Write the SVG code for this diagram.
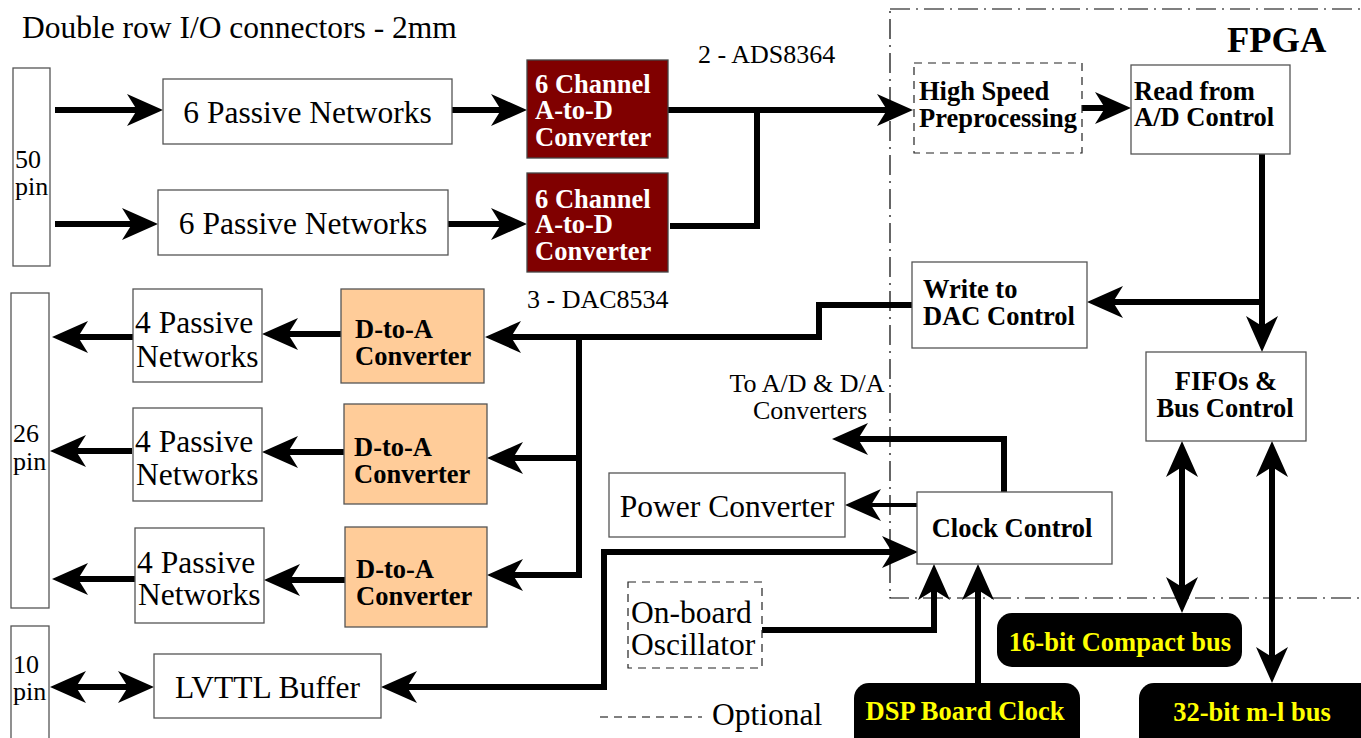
<svg xmlns="http://www.w3.org/2000/svg" width="1361" height="738" viewBox="0 0 1361 738">
<style>
text{font-family:"Liberation Serif","Times New Roman",serif;fill:#000}
.r{font-size:31.5px}
.s{font-size:26px}
.b{font-size:26.5px;font-weight:bold}
.w{fill:#fff}
.y{fill:#ffff00}
.box{fill:#fff;stroke:#555;stroke-width:1.3}
.adc{fill:#800000;stroke:#444;stroke-width:1.3}
.dac{fill:#ffcc99;stroke:#555;stroke-width:1.3}
.dash{fill:#fff;stroke:#222;stroke-width:1.2;stroke-dasharray:8,6}
.bus{fill:#000}
.c{fill:none;stroke:#000;stroke-width:6}
.ct{fill:none;stroke:#000;stroke-width:4}
.a{marker-end:url(#ah)}
.aa{marker-end:url(#ah);marker-start:url(#ah)}
</style>
<defs>
<marker id="ah" markerUnits="userSpaceOnUse" viewBox="0 0 36 32" markerWidth="36" markerHeight="32" refX="10" refY="16" orient="auto-start-reverse">
<path d="M0,0 L36,16 L0,32 L10,16 Z" fill="#000"/>
</marker>
</defs>

<g id="fpga">
<rect x="890" y="9" width="480" height="589" fill="none" stroke="#000" stroke-width="1.2" stroke-dasharray="20,6,2,6"/>
<text class="b" x="1227" y="52" style="font-size:36.5px">FPGA</text>
</g>

<text id="title" class="r" x="22" y="38">Double row I/O connectors - 2mm</text>
<text id="lbl-ads" class="s" x="698" y="63">2 - ADS8364</text>
<text id="lbl-dac" class="s" x="527" y="308">3 - DAC8534</text>
<text id="lbl-conv" class="s" x="807" y="392" text-anchor="middle">To A/D &amp; D/A</text>
<text id="lbl-conv2" class="s" x="810" y="419" text-anchor="middle">Converters</text>

<g id="legend">
<line x1="600" y1="717" x2="702" y2="717" stroke="#000" stroke-width="1.2" stroke-dasharray="8,6"/>
<text class="r" x="712" y="725">Optional</text>
</g>

<g id="connectors">
<path class="c a" d="M55,110 H137"/>
<path class="c a" d="M55,224 H132"/>
<path class="c a" d="M452,110 H501"/>
<path class="c a" d="M448,224 H501"/>
<path class="c a" d="M668,110 H887"/>
<path class="c" d="M670,226 H757 V110"/>
<path class="c a" d="M1082,108 H1105"/>
<path class="c a" d="M1262,154 V326"/>
<path class="c a" d="M1262,302 H1113"/>
<path class="c a" d="M912,305 H819 V337 H511"/>
<path class="c a" d="M579,337 V575 H513"/>
<path class="c a" d="M579,458 H513"/>
<path class="c a" d="M341,334 H288"/>
<path class="c a" d="M344,452 H288"/>
<path class="c a" d="M345,580 H290"/>
<path class="c a" d="M133,337 H78"/>
<path class="c a" d="M132,451 H76"/>
<path class="c a" d="M135,579 H78"/>
<path class="c aa" d="M76,687 H128"/>
<path class="c aa" d="M892,552 H604 V687 H407"/>
<path class="c a" d="M762,630 H934 V590"/>
<path class="c a" d="M978,683 V590"/>
<path class="c a" d="M1004,492 V439 H858"/>
<path class="ct a" d="M917,505 H871"/>
<path class="c aa" d="M1182,467 V587"/>
<path class="c aa" d="M1272,467 V657"/>
</g>

<g id="pin50"><rect class="box" x="13" y="68" width="37" height="198"/><text class="s" x="15" y="168">50</text><text class="s" x="15" y="195">pin</text></g>
<g id="pin26"><rect class="box" x="11" y="293" width="38" height="315"/><text class="s" x="13" y="442">26</text><text class="s" x="13" y="470">pin</text></g>
<g id="pin10"><rect class="box" x="11" y="626" width="38" height="120"/><text class="s" x="13" y="673">10</text><text class="s" x="13" y="700">pin</text></g>

<g id="pn6a"><rect class="box" x="163" y="79" width="289" height="65"/><text class="r" x="307.5" y="123" text-anchor="middle">6 Passive Networks</text></g>
<g id="pn6b"><rect class="box" x="158" y="190" width="290" height="65"/><text class="r" x="303" y="234" text-anchor="middle">6 Passive Networks</text></g>

<g id="adc1"><rect class="adc" x="527" y="60" width="141" height="98"/><text class="b w" x="535" y="93">6 Channel</text><text class="b w" x="535" y="119">A-to-D</text><text class="b w" x="535" y="146">Converter</text></g>
<g id="adc2"><rect class="adc" x="527" y="173" width="141" height="99"/><text class="b w" x="535" y="208">6 Channel</text><text class="b w" x="535" y="233">A-to-D</text><text class="b w" x="535" y="260">Converter</text></g>

<g id="hsp"><rect class="dash" x="914" y="63" width="168" height="90"/><text class="b" x="919" y="100">High Speed</text><text class="b" x="919" y="127">Preprocessing</text></g>
<g id="read"><rect class="box" x="1131" y="65" width="159" height="89"/><text class="b" x="1134" y="100">Read from</text><text class="b" x="1134" y="126">A/D Control</text></g>
<g id="write"><rect class="box" x="912" y="262" width="175" height="86"/><text class="b" x="923" y="298">Write to</text><text class="b" x="923" y="325">DAC Control</text></g>
<g id="fifo"><rect class="box" x="1146" y="352" width="160" height="89"/><text class="b" x="1226" y="390" text-anchor="middle">FIFOs &amp;</text><text class="b" x="1225" y="417" text-anchor="middle">Bus Control</text></g>
<g id="clock"><rect class="box" x="917" y="492" width="195" height="72"/><text class="b" x="1012" y="537" text-anchor="middle">Clock Control</text></g>

<g id="dac1"><rect class="dac" x="341" y="289" width="143" height="94"/><text class="b" x="355" y="338">D-to-A</text><text class="b" x="355" y="365">Converter</text></g>
<g id="dac2"><rect class="dac" x="344" y="404" width="143" height="100"/><text class="b" x="354" y="456">D-to-A</text><text class="b" x="354" y="483">Converter</text></g>
<g id="dac3"><rect class="dac" x="345" y="527" width="142" height="100"/><text class="b" x="356" y="578">D-to-A</text><text class="b" x="356" y="605">Converter</text></g>

<g id="pn4a"><rect class="box" x="133" y="289" width="129" height="93"/><text class="r" x="135" y="333">4 Passive</text><text class="r" x="136" y="367">Networks</text></g>
<g id="pn4b"><rect class="box" x="133" y="408" width="129" height="93"/><text class="r" x="135" y="452">4 Passive</text><text class="r" x="136" y="485">Networks</text></g>
<g id="pn4c"><rect class="box" x="135" y="528" width="129" height="95"/><text class="r" x="137" y="573">4 Passive</text><text class="r" x="138" y="605">Networks</text></g>

<g id="lvttl"><rect class="box" x="154" y="654" width="227" height="64"/><text class="r" x="267.5" y="698" text-anchor="middle">LVTTL Buffer</text></g>
<g id="power"><rect class="box" x="609" y="473" width="236" height="64"/><text class="r" x="727" y="517" text-anchor="middle">Power Converter</text></g>
<g id="osc"><rect class="dash" x="628" y="582" width="134" height="86"/><text class="r" x="631" y="623">On-board</text><text class="r" x="631" y="655">Oscillator</text></g>

<g id="bus16"><rect class="bus" x="997" y="613" width="245" height="54" rx="15"/><text class="b y" x="1120" y="651" text-anchor="middle">16-bit Compact bus</text></g>
<g id="dspclk"><rect class="bus" x="854" y="683" width="226" height="70" rx="15"/><text class="b y" x="965" y="720" text-anchor="middle">DSP Board Clock</text></g>
<g id="bus32"><rect class="bus" x="1139" y="683" width="236" height="70" rx="15"/><text class="b y" x="1252" y="721" text-anchor="middle">32-bit m-l bus</text></g>
</svg>
